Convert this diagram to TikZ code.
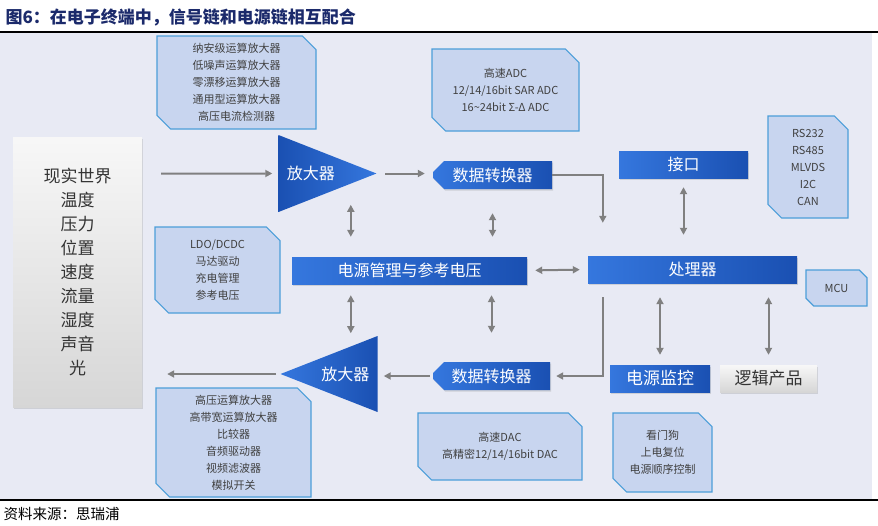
\documentclass[tikz,border=0pt]{standalone}
\usepackage{fontspec}
\setmainfont{Noto Sans CJK SC}
\usetikzlibrary{shapes.geometric,shapes.misc,arrows.meta,shadows}

\definecolor{bgpanel}{HTML}{E8EAF4}
\definecolor{navytitle}{HTML}{1B2A6B}
\definecolor{boxfill}{HTML}{C8D5EF}
\definecolor{boxline}{HTML}{4C9ED9}
\definecolor{boxtext}{HTML}{404040}
\definecolor{blueA}{HTML}{3577DE}
\definecolor{blueB}{HTML}{1A50B2}
\definecolor{arrowgray}{HTML}{808080}

\tikzset{
  infobox/.style={chamfered rectangle, chamfered rectangle corners={north east,south west},
    chamfered rectangle xsep=10pt, draw=boxline, line width=1.2pt, fill=boxfill,
    text=boxtext, align=center, inner sep=0pt, font=\fontsize{11}{17}\selectfont},
  bluebox/.style={rectangle, left color=blueA, right color=blueB, text=white, inner sep=0pt,
    minimum height=27pt, font=\fontsize{16}{18}\selectfont,
    drop shadow={opacity=0.25,shadow xshift=1pt,shadow yshift=-1.5pt}},
  graybox/.style={rectangle, top color=gray!6, bottom color=gray!32, text=black!80, inner sep=0pt,
    drop shadow={opacity=0.25,shadow xshift=1pt,shadow yshift=-1.5pt}},
  convbox/.style={bluebox, chamfered rectangle, chamfered rectangle corners={north west,south west},
    chamfered rectangle xsep=13.5pt, minimum height=28pt},
  ampbox/.style={isosceles triangle, isosceles triangle stretches, inner sep=0pt,
    text=white, font=\fontsize{16}{18}\selectfont},
  arr/.style={draw=arrowgray, line width=2pt, -{Triangle[length=7pt,width=7pt]}},
  dbl/.style={draw=arrowgray, line width=2pt, {Triangle[length=7pt,width=7pt]}-{Triangle[length=7pt,width=7pt]}}
}

\begin{document}
\begin{tikzpicture}[x=1pt,y=-1pt]
\useasboundingbox (0,0) rectangle (878,525);
\fill[bgpanel] (0,33) rectangle (872,499);
\draw[line width=1.3pt] (0,32) -- (878,32);
\draw[line width=1.3pt] (0,500) -- (878,500);

\coordinate (T) at (2,17);
\coordinate (F) at (0,514);
\coordinate (W) at (77.5,272);
\coordinate (AI) at (377,173.5);
\coordinate (AO) at (280,374);
\coordinate (CI) at (492.5,175);
\coordinate (CO) at (491.5,376);
\coordinate (P) at (409.5,270.5);
\coordinate (U) at (692.5,269.5);
\coordinate (I) at (683.5,164.5);
\coordinate (M) at (660,378.5);
\coordinate (L) at (768.5,378.5);

\node[anchor=west, text=navytitle, font=\fontsize{17}{20}\selectfont\bfseries] (title) at (T)
  {图6：在电子终端中，信号链和电源链相互配合};
\node[anchor=west, font=\fontsize{14.5}{16}\selectfont] (source) at (F) {资料来源：思瑞浦};

\node[graybox, minimum width=129pt, minimum height=270pt, align=center,
  font=\fontsize{17}{24}\selectfont] (world) at (W)
  {现实世界\\温度\\压力\\位置\\速度\\流量\\湿度\\声音\\光};

\node[ampbox, anchor=apex, minimum width=77pt, minimum height=98pt,
  left color=blueB, right color=blueA] (ampin) at (AI) {放大器};
\node[ampbox, anchor=apex, shape border rotate=180, minimum width=76pt, minimum height=97pt,
  left color=blueA, right color=blueB] (ampout) at (AO) {放大器};

\node[convbox, minimum width=119pt] (adcconv) at (CI) {数据转换器};
\node[convbox, minimum width=117pt] (dacconv) at (CO) {数据转换器};
\node[bluebox, minimum width=235pt] (pwr) at (P) {电源管理与参考电压};
\node[bluebox, minimum width=209pt] (cpu) at (U) {处理器};
\node[bluebox, minimum width=129pt] (iface) at (I) {接口};
\node[bluebox, minimum width=100pt, font=\fontsize{17}{18}\selectfont] (mon) at (M) {电源监控};
\node[graybox, minimum width=97pt, minimum height=27pt, font=\fontsize{17}{18}\selectfont] (logic) at (L) {逻辑产品};

\node[infobox, minimum width=159pt, minimum height=93pt] (amplist) at (236.5,82.5)
  {纳安级运算放大器\\低噪声运算放大器\\零漂移运算放大器\\通用型运算放大器\\高压电流检测器};
\node[infobox, minimum width=147pt, minimum height=82pt] (adclist) at (505.5,90)
  {高速ADC\\12/14/16bit SAR ADC\\16\textasciitilde24bit Σ-Δ ADC};
\node[infobox, minimum width=80pt, minimum height=102pt] (buslist) at (808,167)
  {RS232\\RS485\\MLVDS\\I2C\\CAN};
\node[infobox, minimum width=125pt, minimum height=86pt] (pwrlist) at (217.5,270)
  {LDO/DCDC\\马达驱动\\充电管理\\参考电压};
\node[infobox, minimum width=61pt, minimum height=36pt] (mcu) at (836.5,288) {MCU};
\node[infobox, minimum width=155pt, minimum height=109pt] (drvlist) at (233.5,442.5)
  {高压运算放大器\\高带宽运算放大器\\比较器\\音频驱动器\\视频滤波器\\模拟开关};
\node[infobox, minimum width=164pt, minimum height=67pt] (daclist) at (500,446.5)
  {高速DAC\\高精密12/14/16bit DAC};
\node[infobox, minimum width=99pt, minimum height=79pt] (suplist) at (662.5,452.5)
  {看门狗\\上电复位\\电源顺序控制};

\draw[arr, shorten <=19pt, shorten >=6pt] (world.east |- ampin) -- (ampin);
\draw[arr, shorten <=8pt, shorten >=8pt] (ampin.apex) -- (ampin.apex -| adcconv.west);
\draw[arr, shorten >=33pt] (adcconv.east) -| ([xshift=15pt]cpu.north west);
\draw[dbl, shorten <=9pt, shorten >=21pt] (iface.south) -- (iface.south |- cpu.north);
\draw[dbl] ([xshift=59pt,yshift=52pt]pwr.north west) -- ([xshift=59pt,yshift=20pt]pwr.north west);
\draw[dbl, shorten <=24pt, shorten >=20pt] (adcconv.south) -- (adcconv.south |- pwr.north);
\draw[dbl, shorten <=8pt, shorten >=8pt] (pwr.east) -- (cpu.west);
\draw[dbl] ([xshift=59pt,yshift=-11pt]pwr.south west) -- ([xshift=59pt,yshift=-49pt]pwr.south west);
\draw[dbl, shorten <=11pt, shorten >=29pt] (dacconv.north |- pwr.south) -- (dacconv.north);
\draw[arr, shorten <=14pt, shorten >=6pt] ([xshift=15pt]cpu.south west) |- (dacconv.east);
\draw[arr, shorten <=3pt, shorten >=6pt] (dacconv.west) -- (dacconv.west -| ampout.east);
\draw[arr, shorten <=4pt, shorten >=25pt] (ampout.apex) -- (ampout.apex -| world.east);
\draw[dbl, shorten <=14pt, shorten >=10pt] (mon.north |- cpu.south) -- (mon.north);
\draw[dbl, shorten <=14pt, shorten >=10pt] (logic.north |- cpu.south) -- (logic.north);

\end{tikzpicture}
\end{document}
